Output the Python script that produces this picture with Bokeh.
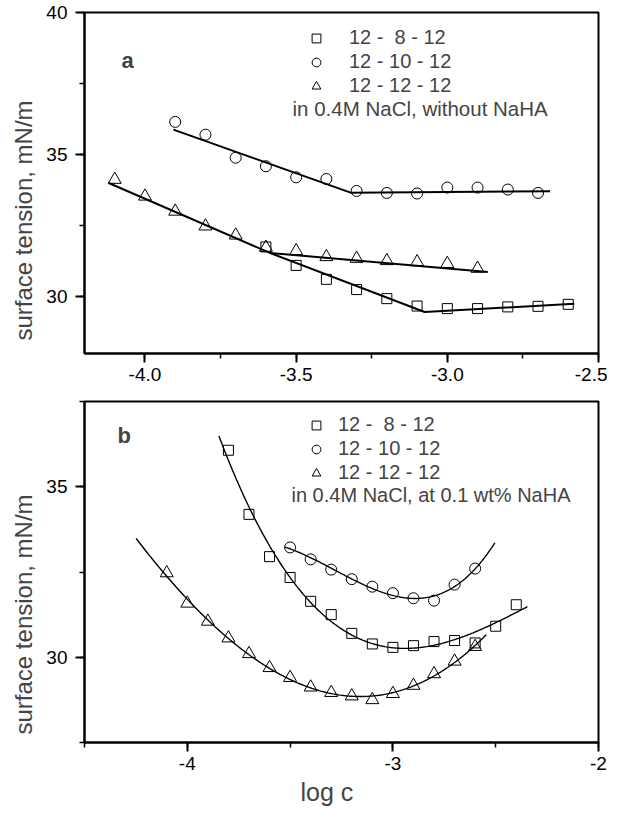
import numpy as np
from bokeh.plotting import figure
from bokeh.layouts import column
from bokeh.models import (FixedTicker, PrintfTickFormatter, Label, Legend,
                          LegendItem, Range1d, Title)
from bokeh.embed import file_html
from bokeh.resources import INLINE

FONT = "Liberation Sans"

# ---------------- Panel a: in 0.4M NaCl, without NaHA ----------------
a_sq_x = [-3.6, -3.5, -3.4, -3.3, -3.2, -3.1, -3.0, -2.9, -2.8, -2.7, -2.6]
a_sq_y = [31.75, 31.10, 30.61, 30.25, 29.93, 29.67, 29.58, 29.58, 29.64, 29.66, 29.73]
a_ci_x = [-3.9, -3.8, -3.7, -3.6, -3.5, -3.4, -3.3, -3.2, -3.1, -3.0, -2.9, -2.8, -2.7]
a_ci_y = [36.15, 35.70, 34.89, 34.59, 34.20, 34.14, 33.72, 33.65, 33.63, 33.84, 33.84, 33.77, 33.65]
a_tr_x = [-4.1, -4.0, -3.9, -3.8, -3.7, -3.6, -3.5, -3.4, -3.3, -3.2, -3.1, -3.0, -2.9]
a_tr_y = [34.12, 33.53, 33.00, 32.48, 32.16, 31.73, 31.61, 31.40, 31.34, 31.26, 31.22, 31.16, 30.99]

# fitted straight-line segments (break points)
a_fit_sq_x = [-3.587, -3.075, -2.58]
a_fit_sq_y = [31.54, 29.46, 29.75]
a_fit_ci_x = [-3.906, -3.32, -2.66]
a_fit_ci_y = [35.88, 33.66, 33.71]
a_fit_tr_x = [-4.12, -3.587, -2.866]
a_fit_tr_y = [34.00, 31.54, 30.87]

# ---------------- Panel b: in 0.4M NaCl, at 0.1 wt% NaHA ----------------
b_sq_x = [-3.8, -3.7, -3.6, -3.5, -3.4, -3.3, -3.2, -3.1, -3.0, -2.9, -2.8, -2.7, -2.6, -2.5, -2.4]
b_sq_y = [36.07, 34.19, 32.95, 32.34, 31.64, 31.25, 30.70, 30.39, 30.29, 30.34, 30.46, 30.49, 30.42, 30.91, 31.54]
b_ci_x = [-3.5, -3.4, -3.3, -3.2, -3.1, -3.0, -2.9, -2.8, -2.7, -2.6]
b_ci_y = [33.22, 32.87, 32.57, 32.29, 32.07, 31.88, 31.73, 31.66, 32.13, 32.60]
b_tr_x = [-4.1, -4.0, -3.9, -3.8, -3.7, -3.6, -3.5, -3.4, -3.3, -3.2, -3.1, -3.0, -2.9, -2.8, -2.7, -2.6]
b_tr_y = [32.47, 31.58, 31.05, 30.56, 30.10, 29.69, 29.40, 29.12, 28.96, 28.86, 28.75, 28.93, 29.17, 29.51, 29.88, 30.31]

# extent of the fitted curves
b_fit_sq_range = [-3.846, -2.346]
b_fit_ci_range = [-3.525, -2.504]
b_fit_tr_range = [-4.249, -2.546]

labels = ["12 -  8 - 12", "12 - 10 - 12", "12 - 12 - 12"]
note_a = "in 0.4M NaCl, without NaHA"
note_b = "in 0.4M NaCl, at 0.1 wt% NaHA"
y_title = "surface tension, mN/m"
x_title = "log c"


def base_fig(xr, yr, top, bottom):
    p = figure(frame_width=514, frame_height=341,
               x_range=Range1d(*xr), y_range=Range1d(*yr),
               output_backend="svg", toolbar_location=None,
               min_border_left=82, min_border_right=9,
               min_border_top=top, min_border_bottom=bottom)
    p.grid.visible = False
    p.outline_line_color = "black"
    p.outline_line_width = 2
    p.background_fill_color = "white"
    p.border_fill_color = "white"
    for ax in (p.xaxis[0], p.yaxis[0]):
        ax.axis_line_width = 2
        ax.major_tick_out = 9
        ax.major_tick_in = 0
        ax.minor_tick_out = 5
        ax.minor_tick_in = 0
        ax.major_tick_line_width = 2
        ax.minor_tick_line_width = 1.5
        ax.major_label_text_font = FONT
        ax.major_label_text_font_size = "19px"
        ax.major_label_text_color = "black"
    p.yaxis.major_label_standoff = 8
    p.xaxis.major_label_standoff = 5
    return p


def add_series(p, sx, sy, cx, cy, tx, ty):
    r_sq = p.scatter(sx, sy, marker="square", size=10, fill_color=None,
                     line_color="black", line_width=1)
    r_ci = p.scatter(cx, cy, marker="circle", size=11, fill_color=None,
                     line_color="black", line_width=1)
    r_tr = p.scatter(tx, ty, marker="triangle", size=13, fill_color=None,
                     line_color="black", line_width=1)
    return r_sq, r_ci, r_tr


def add_legend(p, rs, x, y, standoff):
    items = [LegendItem(label=l, renderers=[r]) for l, r in zip(labels, rs)]
    lg = Legend(items=items, location=(x, y), orientation="vertical",
                border_line_color=None, background_fill_alpha=0,
                padding=0, margin=0, spacing=1, glyph_width=22,
                glyph_height=22, label_height=22, label_standoff=standoff,
                label_text_font=FONT, label_text_font_size="20px")
    p.add_layout(lg)


def add_ytitle(p, shift):
    # align "left" on a left-side title starts the text at the frame bottom,
    # shifted up by `offset` pixels
    p.add_layout(Title(text=y_title, align="left", offset=shift,
                       text_font=FONT, text_font_size="24px",
                       text_font_style="normal", standoff=14), "left")


# ---------- panel a ----------
pa = base_fig((-4.2, -2.5), (28, 40), 12, 37)
pa.xaxis.ticker = FixedTicker(ticks=[-4.0, -3.5, -3.0, -2.5],
                              minor_ticks=[-4.0, -3.75, -3.5, -3.25, -3.0, -2.75, -2.5])
pa.xaxis.formatter = PrintfTickFormatter(format="%.1f")
pa.yaxis.ticker = FixedTicker(ticks=[30, 35, 40], minor_ticks=[30, 32.5, 35, 37.5, 40])
pa.yaxis.formatter = PrintfTickFormatter(format="%d")

pa.line(a_fit_sq_x, a_fit_sq_y, line_color="black", line_width=2)
pa.line(a_fit_ci_x, a_fit_ci_y, line_color="black", line_width=2)
pa.line(a_fit_tr_x, a_fit_tr_y, line_color="black", line_width=2)
rs_a = add_series(pa, a_sq_x, a_sq_y, a_ci_x, a_ci_y, a_tr_x, a_tr_y)
add_legend(pa, rs_a, 221, 256, 22)
pa.add_layout(Label(x=208, y=245, x_units="screen", y_units="screen", text=note_a,
                    text_font=FONT, text_font_size="20.5px", text_baseline="middle"))
pa.add_layout(Label(x=37, y=293, x_units="screen", y_units="screen", text="a",
                    text_font=FONT, text_font_size="22px", text_font_style="bold",
                    text_baseline="alphabetic"))
add_ytitle(pa, 13)

# ---------- panel b ----------
pb = base_fig((-4.5, -2.0), (27.5, 37.5), 11, 68)
pb.xaxis.ticker = FixedTicker(ticks=[-4, -3, -2], minor_ticks=[-4.5, -4, -3.5, -3, -2.5, -2])
pb.xaxis.formatter = PrintfTickFormatter(format="%d")
pb.yaxis.ticker = FixedTicker(ticks=[30, 35], minor_ticks=[27.5, 30, 32.5, 35, 37.5])
pb.yaxis.formatter = PrintfTickFormatter(format="%d")

for xs, ys, rng, deg in [(b_sq_x, b_sq_y, b_fit_sq_range, 3),
                         (b_ci_x, b_ci_y, b_fit_ci_range, 3),
                         (b_tr_x, b_tr_y, b_fit_tr_range, 3)]:
    coef = np.polyfit(xs, ys, deg)
    gx = np.linspace(rng[0], rng[1], 200)
    pb.line(gx, np.polyval(coef, gx), line_color="black", line_width=1.4)

rs_b = add_series(pb, b_sq_x, b_sq_y, b_ci_x, b_ci_y, b_tr_x, b_tr_y)
add_legend(pb, rs_b, 221, 258, 11)
pb.add_layout(Label(x=207, y=248, x_units="screen", y_units="screen", text=note_b,
                    text_font=FONT, text_font_size="20px", text_baseline="middle"))
pb.add_layout(Label(x=33, y=307, x_units="screen", y_units="screen", text="b",
                    text_font=FONT, text_font_size="22px", text_font_style="bold",
                    text_baseline="alphabetic"))
add_ytitle(pb, 8)
pb.add_layout(Title(text=x_title, align="left", offset=216,
                    text_font=FONT, text_font_size="25px",
                    text_font_style="normal", standoff=7), "below")

layout = column(pa, pb, spacing=0)
open("out.html", "w").write(file_html(layout, INLINE))
